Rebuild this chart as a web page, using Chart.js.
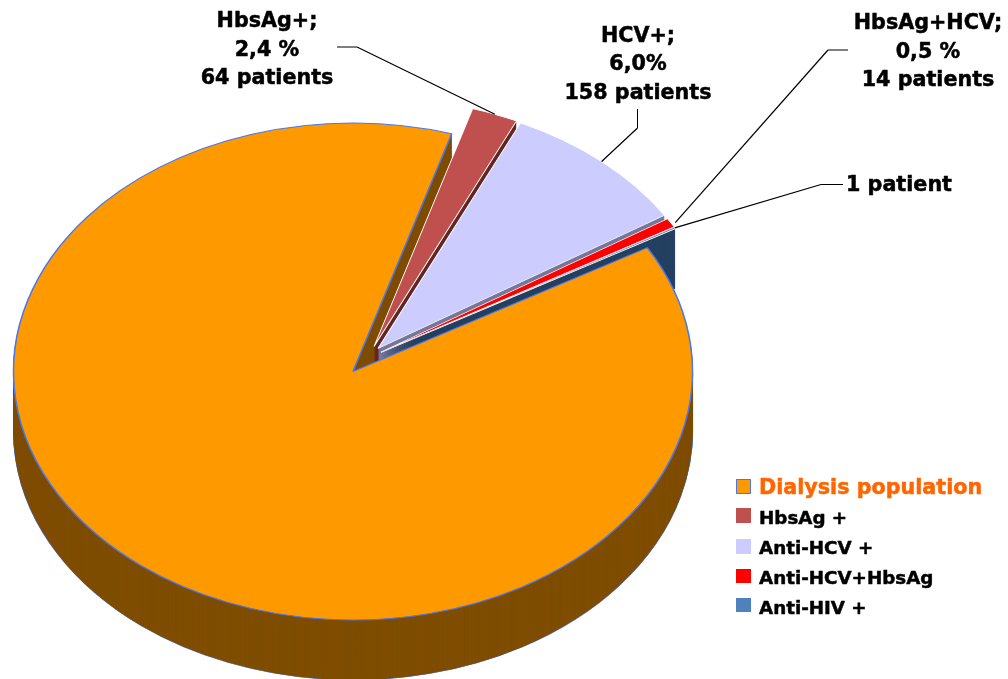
<!DOCTYPE html>
<html>
<head>
<meta charset="utf-8">
<style>html,body{margin:0;padding:0;background:#fff}canvas{display:block}</style>
<script src="https://cdn.jsdelivr.net/npm/chart.js@4"></script>
</head>
<body>
<canvas id="c" width="1008" height="679"></canvas>
<script>
const categories = ['Dialysis population', 'HbsAg +', 'Anti-HCV +', 'Anti-HCV+HbsAg', 'Anti-HIV +'];
const sliceValues = [88.0, 2.2, 9.1, 0.6, 0.1];
const faceColors = ['#FF9900', '#C0504D', '#CCCCFF', '#FF0000', '#4F81BD'];
const sideColors = ['#7F4D00', '#632523', '#77779A', '#254061', '#254061'];
const edgeColors = ['#4878F0', '#FFFFFF', '#FFFFFF', '#FFFFFF', '#FFFFFF'];
const edgeWidths = [1.5, 1, 1, 1, 1];
const explodeX = [0, 21, 25, 28, 28];
const explodeY = [0, -25, -23, -19.5, -19];

const calloutText = [
  ['HbsAg+;', '2,4 %', '64 patients'],
  ['HCV+;', '6,0%', '158 patients'],
  ['HbsAg+HCV;', '0,5 %', '14 patients'],
  ['1 patient']
];

const CX = 353, CY = 371.5, RX = 339.5, RY = 248.5, DEPTH = 60;
const FONT = '"DejaVu Sans", Verdana, sans-serif';

// slice index, text anchor, elbow, tail; rim = position along the slice's rim, stop = share of the line drawn
const callouts = [
  {slice: 1, x: 267, ys: [22, 51, 79], align: 'center', elbow: [357, 47], tail: [337, 47], rim: 0.5, stop: 1},
  {slice: 2, x: 638, ys: [37, 65, 94], align: 'center', elbow: [637.5, 128], tail: [637.5, 109], rim: 0.5, stop: 1},
  {slice: 3, x: 928, ys: [24, 53, 81], align: 'center', elbow: [828, 50], tail: [848, 50], rim: 0.8, stop: 0.985},
  {slice: 4, x: 846, ys: [186], align: 'left', elbow: [821, 184.5], tail: [843, 184.5], rim: 0.5, stop: 1}
];
const legendRows = [
  {y: 489, box: [479, 15], size: 20.7, color: '#FF6600'},
  {y: 519, box: [508, 15], size: 18.3, color: '#000000'},
  {y: 549, box: [539, 15], size: 18.3, color: '#000000'},
  {y: 579, box: [569, 14], size: 18.3, color: '#000000'},
  {y: 609, box: [598, 14], size: 18.3, color: '#000000'}
];

function place(ctx, arc, i, drop) {
  const sx = RX / arc.outerRadius, sy = RY / arc.outerRadius;
  ctx.translate(CX + explodeX[i], CY + explodeY[i] + drop);
  ctx.scale(sx, sy);
  ctx.translate(-arc.x, -arc.y);
}
function drawArc(ctx, arc, i, drop, fill, edge, width) {
  const saved = arc.options;
  arc.options = Object.assign({}, saved, {backgroundColor: fill, borderColor: edge, borderWidth: width});
  ctx.save();
  place(ctx, arc, i, drop);
  arc.draw(ctx);
  ctx.restore();
  arc.options = saved;
}
function drawSide(ctx, arc, i) {
  for (let d = DEPTH; d > 0; d -= 1) {
    drawArc(ctx, arc, i, d, sideColors[i], sideColors[i], 0);
  }
}
function heavyText(ctx, text, x, y, color) {
  ctx.fillStyle = color;
  ctx.strokeStyle = color;
  ctx.lineWidth = 0.5;
  ctx.lineJoin = 'round';
  ctx.fillText(text, x, y);
  ctx.strokeText(text, x, y);
}
const pie3d = {
  id: 'pie3d',
  beforeDatasetDraw(chart, args) {
    const ctx = chart.ctx;
    const arcs = args.meta.data;
    // outline of the main slice's sides, then its brown fill leaves only the silhouette edge
    for (let d = DEPTH; d > 0; d -= 1) {
      drawArc(ctx, arcs[0], 0, d, edgeColors[0], edgeColors[0], 1);
    }
    drawSide(ctx, arcs[0], 0);
    // exploded slices, back to front
    for (let i = 1; i < arcs.length; i++) {
      drawSide(ctx, arcs[i], i);
      drawArc(ctx, arcs[i], i, 0, faceColors[i], edgeColors[i], edgeWidths[i]);
    }
    // main face on top
    drawArc(ctx, arcs[0], 0, 0, faceColors[0], edgeColors[0], edgeWidths[0]);
    return false;
  },
  afterDraw(chart) {
    const ctx = chart.ctx;
    const arcs = chart.getDatasetMeta(0).data;
    ctx.save();
    // leader lines, ending on each slice's rim
    callouts.forEach(c => {
      const a = arcs[c.slice];
      const ang = a.startAngle + (a.endAngle - a.startAngle) * c.rim;
      const ax = CX + explodeX[c.slice] + RX * Math.cos(ang);
      const ay = CY + explodeY[c.slice] + RY * Math.sin(ang);
      const ex = c.elbow[0] + (ax - c.elbow[0]) * c.stop;
      const ey = c.elbow[1] + (ay - c.elbow[1]) * c.stop;
      ctx.strokeStyle = '#000000';
      ctx.lineWidth = 1;
      ctx.beginPath();
      ctx.moveTo(c.tail[0], c.tail[1]);
      ctx.lineTo(c.elbow[0], c.elbow[1]);
      ctx.stroke();
      ctx.lineWidth = 1.2;
      ctx.beginPath();
      ctx.moveTo(c.elbow[0], c.elbow[1]);
      ctx.lineTo(ex, ey);
      ctx.stroke();
    });
    // callout text
    ctx.textBaseline = 'middle';
    ctx.font = 'bold 20.7px ' + FONT;
    callouts.forEach((c, k) => {
      ctx.textAlign = c.align;
      calloutText[k].forEach((t, j) => heavyText(ctx, t, c.x, c.ys[j], '#000000'));
    });
    // legend
    ctx.textAlign = 'left';
    categories.forEach((name, i) => {
      const r = legendRows[i];
      ctx.fillStyle = faceColors[i];
      ctx.fillRect(736, r.box[0], 15, r.box[1]);
      if (i === 0) {
        ctx.strokeStyle = edgeColors[0];
        ctx.lineWidth = 1;
        ctx.strokeRect(736.5, r.box[0] + 0.5, 14, r.box[1] - 1);
      }
      ctx.font = 'bold ' + r.size + 'px ' + FONT;
      heavyText(ctx, name, 759, r.y, r.color);
    });
    ctx.restore();
  }
};

new Chart(document.getElementById('c'), {
  type: 'pie',
  data: {
    labels: categories,
    datasets: [{
      data: sliceValues,
      backgroundColor: faceColors,
      borderColor: edgeColors,
      borderWidth: 1
    }]
  },
  options: {
    responsive: false,
    animation: false,
    events: [],
    rotation: 60.1,
    layout: {padding: {left: 13.5, right: 315.5, top: 0, bottom: 0}},
    plugins: {legend: {display: false}, tooltip: {enabled: false}, title: {display: false}}
  },
  plugins: [pie3d]
});
</script>
</body>
</html>
